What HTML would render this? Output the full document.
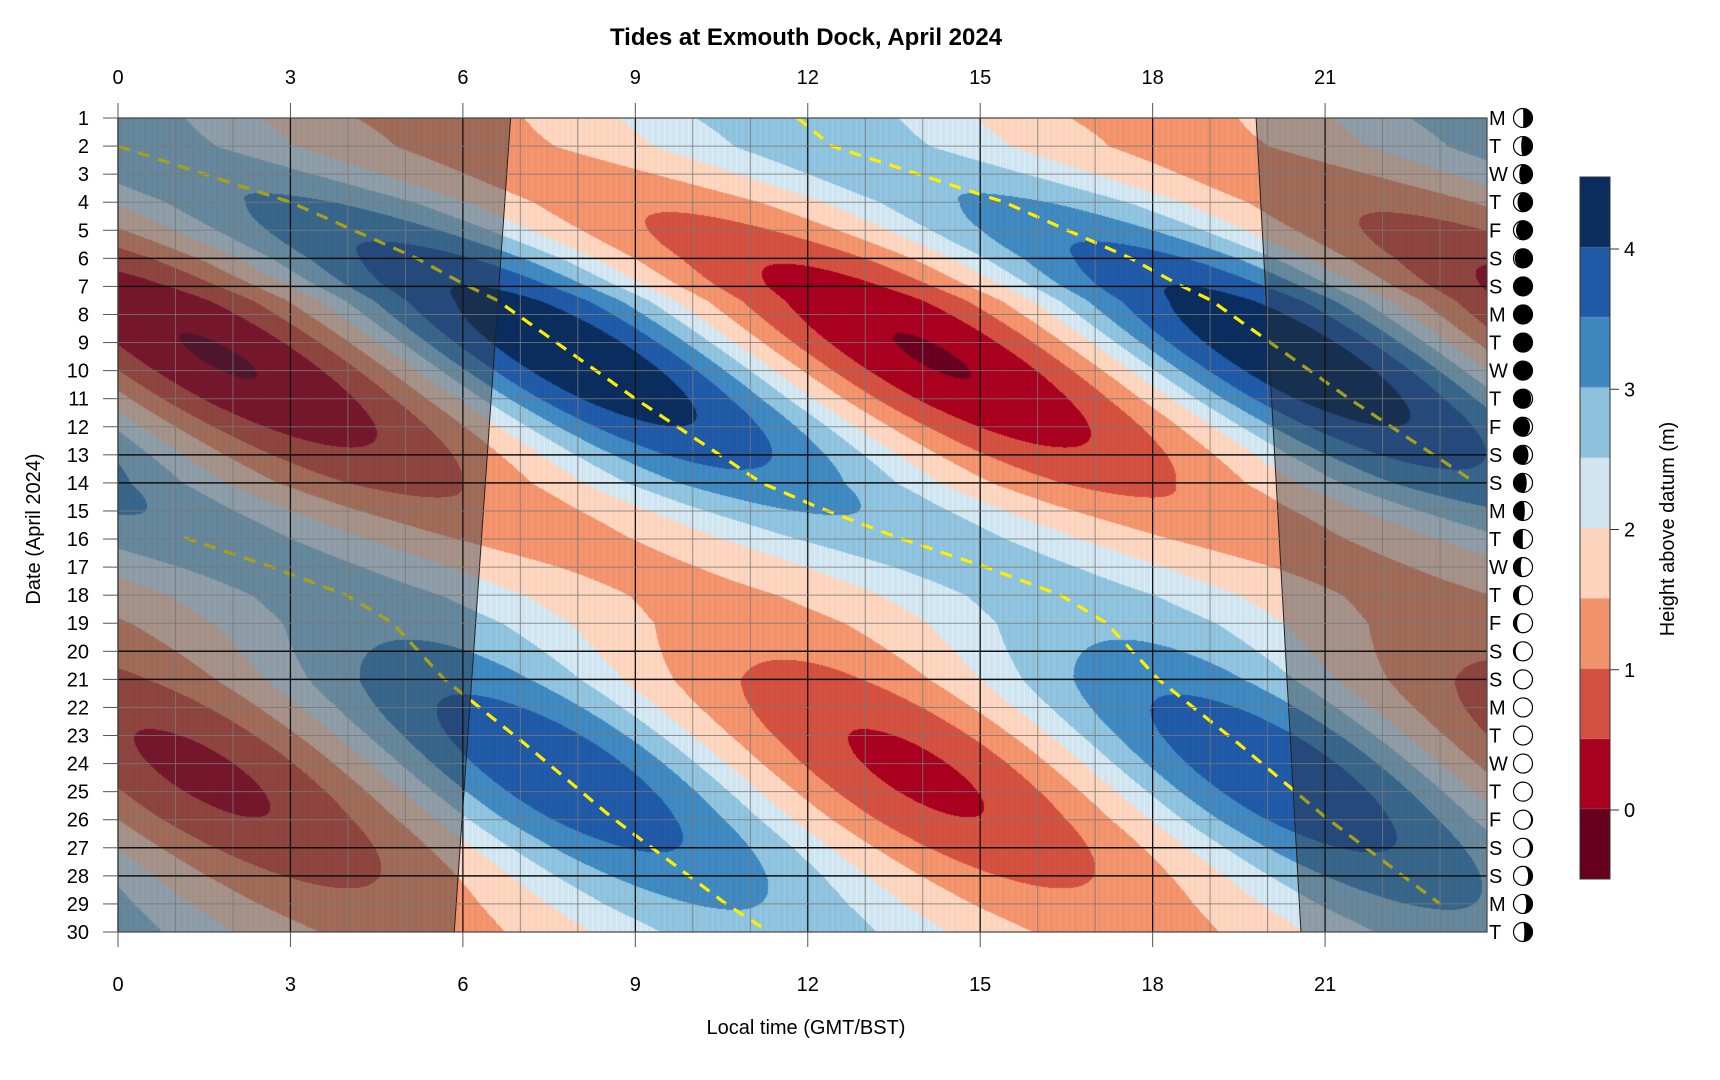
<!DOCTYPE html>
<html><head><meta charset="utf-8">
<style>
html,body{margin:0;padding:0;background:#fff;}
#wrap{position:relative;width:1720px;height:1080px;overflow:hidden;font-family:"Liberation Sans",Arial,sans-serif;}
canvas,svg{position:absolute;left:0;top:0;}
</style></head>
<body><div id="wrap">
<canvas id="cv" width="1720" height="1080"></canvas>
<svg id="sv" width="1720" height="1080" xmlns="http://www.w3.org/2000/svg" font-family="Liberation Sans, Arial, sans-serif">
<text x="806" y="45" font-size="24" font-weight="bold" text-anchor="middle">Tides at Exmouth Dock, April 2024</text>
<text x="806" y="1034" font-size="20" text-anchor="middle">Local time (GMT/BST)</text>
<text transform="translate(40,529) rotate(-90)" font-size="20" text-anchor="middle">Date (April 2024)</text>
<text transform="translate(1674,529) rotate(-90)" font-size="20" text-anchor="middle">Height above datum (m)</text>
</svg>
</div>
<script>
const X0=118,X1=1487,Y0=118,Y1=932,HP=57.48,DP=(Y1-Y0)/29;
const hx=t=>X0+t*HP, dy=d=>Y0+(d-1)*DP;
const pts=[[0,-1.2],[1,-0.6],[2,0],[4,3],[6,5.2],[6.9,6.0],[7.5,6.6],[11,9],[14,11.2],[14.8,12.1],[15.9,13.5],[17,15.1],[18,16.4],[19,17.2],[21,18.1],[23.3,19.5],[25.9,21],[29,23],[31,24.5]];
function HT(d){for(let i=0;i<pts.length-1;i++){if(d<=pts[i+1][0]){const a=pts[i],b=pts[i+1];return a[1]+(b[1]-a[1])*(d-a[0])/(b[0]-a[0]);}}return 24.5;}
function amp(d){return 1.45+0.7*Math.cos(2*Math.PI*(d-9.5)/14.77)+0.25*Math.cos(2*Math.PI*(d-9)/29.5);}
function H(t,d){let c=Math.cos(2*Math.PI*(t-HT(d))/12.42);if(c<0)c*=0.85;return 2.0+amp(d)*c;}
const cols=["#67001f","#a8001f","#d1503f","#f0926c","#fcd3bd","#d1e5f0","#8ec1dc","#3f87bf","#2059a6","#0a2d5e"];
const rgb=cols.map(c=>[parseInt(c.substr(1,2),16),parseInt(c.substr(3,2),16),parseInt(c.substr(5,2),16)]);
const cv=document.getElementById('cv'),ctx=cv.getContext('2d');
const W=X1-X0,Hh=Y1-Y0;
const img=ctx.createImageData(W,Hh);
for(let py=0;py<Hh;py++){const d=1+py/DP;for(let px=0;px<W;px++){const t=px/HP;let h=H(t,d);let b=Math.floor((h+0.5)/0.5);if(b<0)b=0;if(b>9)b=9;const c=rgb[b];const i=(py*W+px)*4;
let f=(px%6==0)?1.06:1;img.data[i]=Math.min(255,c[0]*f);img.data[i+1]=Math.min(255,c[1]*f);img.data[i+2]=Math.min(255,c[2]*f);img.data[i+3]=255;}}
ctx.putImageData(img,X0,Y0);
for(let b=0;b<10;b++){const yT=879-(b+1)*70.2;ctx.fillStyle=cols[b];ctx.fillRect(1580,yT,30,70.2);}
const sv=document.getElementById('sv');const NS="http://www.w3.org/2000/svg";
function el(n,a,txt){const e=document.createElementNS(NS,n);for(const k in a)e.setAttribute(k,a[k]);if(txt!==undefined)e.textContent=txt;sv.appendChild(e);return e;}
el('rect',{x:1580,y:177,width:30,height:702,fill:'none',stroke:'#333','stroke-width':1});
const rng={'-1':[15.95,30.01],'0':[2,29.05],'1':[1,14.05]};
for(const k of [-1,0,1]){let seg=[];const segs=[];const [da,db]=rng[k];for(let d=da;d<=db;d+=0.05){const t=HT(d)+k*12.42;if(t>=0&&t<=23.83){seg.push(hx(t).toFixed(1)+','+dy(d).toFixed(1));}else{if(seg.length>1)segs.push(seg);seg=[];}}if(seg.length>1)segs.push(seg);
for(const s of segs)el('polyline',{points:s.join(' '),fill:'none',stroke:'#ffee00','stroke-width':3.2,'stroke-dasharray':'12 9'});}
const sr1=hx(6.83),sr30=hx(5.85),ss1=hx(19.8),ss30=hx(20.58);
el('polygon',{points:`${X0},${Y0} ${sr1},${Y0} ${sr30},${Y1} ${X0},${Y1}`,fill:'rgba(45,52,62,0.42)',stroke:'#222','stroke-width':1});
el('polygon',{points:`${ss1},${Y0} ${X1},${Y0} ${X1},${Y1} ${ss30},${Y1}`,fill:'rgba(45,52,62,0.42)',stroke:'#222','stroke-width':1});
for(let h=0;h<=23;h++){const x=hx(h);el('line',{x1:x,y1:Y0,x2:x,y2:Y1,stroke:h%3==0?'#111':'rgba(120,120,120,0.8)','stroke-width':h%3==0?1.3:1});}
const wk=[6,7,13,14,20,21,27,28];
for(let d=1;d<=30;d++){const y=dy(d);const b=wk.includes(d);el('line',{x1:X0,y1:y,x2:X1,y2:y,stroke:b?'#111':'rgba(120,120,120,0.8)','stroke-width':b?1.5:1});}
el('rect',{x:X0,y:Y0,width:W,height:Hh,fill:'none',stroke:'#444','stroke-width':1.2});
for(let h=0;h<=21;h+=3){const x=hx(h);el('line',{x1:x,y1:103,x2:x,y2:Y0,stroke:'#555'});el('line',{x1:x,y1:Y1,x2:x,y2:947,stroke:'#555'});
el('text',{x:x,y:84,'font-size':20,'text-anchor':'middle'},h);el('text',{x:x,y:991,'font-size':20,'text-anchor':'middle'},h);}
const days="MTWTFSSMTWTFSSMTWTFSSMTWTFSSMT";
for(let d=1;d<=30;d++){const y=dy(d);el('line',{x1:103,y1:y,x2:X0,y2:y,stroke:'#555'});
el('text',{x:89,y:y+7,'font-size':20,'text-anchor':'end'},d);
el('text',{x:1489,y:y+7,'font-size':20},days[d-1]);
const cx=1523,cy=y,r=9.5;el('circle',{cx,cy,r,fill:'#000'});
let th=2*Math.PI*(d-8.5)/29.53;th=((th%(2*Math.PI))+2*Math.PI)%(2*Math.PI);
const P=[];const N=30;if(th<Math.PI){for(let i=0;i<=N;i++){const f=Math.PI*i/N;P.push([cx+r*Math.sin(f),cy-r*Math.cos(f)]);}for(let i=N;i>=0;i--){const f=Math.PI*i/N;P.push([cx+r*Math.sin(f)*Math.cos(th),cy-r*Math.cos(f)]);}}
else{for(let i=0;i<=N;i++){const f=Math.PI*i/N;P.push([cx-r*Math.sin(f),cy-r*Math.cos(f)]);}for(let i=N;i>=0;i--){const f=Math.PI*i/N;P.push([cx-r*Math.sin(f)*Math.cos(th),cy-r*Math.cos(f)]);}}
el('polygon',{points:P.map(p=>p[0].toFixed(2)+','+p[1].toFixed(2)).join(' '),fill:'#fff'});
el('circle',{cx,cy,r,fill:'none',stroke:'#000','stroke-width':1.2});}
for(let v=0;v<=4;v++){const y=810-v*140.25;el('line',{x1:1610,y1:y,x2:1619,y2:y,stroke:'#333'});el('text',{x:1624,y:y+7,'font-size':20},v);}
</script>
</body></html>
